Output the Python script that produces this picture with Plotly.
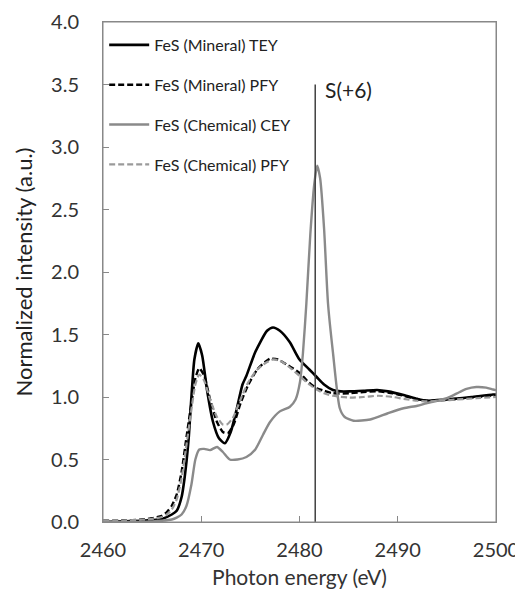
import plotly.graph_objects as go

# ---- data ----
tey_min_x = [2460, 2462, 2464, 2465, 2466, 2467, 2467.5, 2468, 2468.3, 2468.7, 2469.0, 2469.3, 2469.7,
             2470.1, 2470.6, 2471.2, 2471.8, 2472.4, 2473.0, 2473.6, 2474.2, 2474.6, 2475.5, 2476.7,
             2477.3, 2478.0, 2479.0, 2480.0, 2481.0, 2481.75, 2482.5, 2483.4, 2484.2, 2485.1, 2486.5,
             2487.9, 2489.0, 2490.6, 2492.0, 2492.9, 2494.0, 2495.7, 2497.5, 2499.7, 2500]
tey_min_y = [0.0, 0.005, 0.01, 0.015, 0.025, 0.06, 0.09, 0.2, 0.35, 0.65, 1.0, 1.3, 1.43,
             1.33, 1.05, 0.8, 0.67, 0.63, 0.72, 0.9, 1.1, 1.17, 1.36, 1.53,
             1.556, 1.53, 1.44, 1.3, 1.22, 1.16, 1.1, 1.056, 1.045, 1.045, 1.05,
             1.056, 1.045, 1.016, 0.985, 0.97, 0.975, 0.985, 1.0, 1.02, 1.02]

pfy_min_x = [2460, 2462, 2464, 2465, 2466, 2466.5, 2467, 2467.5, 2468, 2468.5, 2469.0, 2469.4, 2469.8,
             2470.3, 2470.9, 2471.6, 2472.2, 2472.7, 2473.3, 2474.0, 2474.8, 2475.7, 2476.5, 2477.0,
             2477.8, 2478.7, 2480.05, 2480.9, 2481.75, 2482.5, 2483.4, 2485.1, 2486.5, 2488.0, 2489.5,
             2490.6, 2492.0, 2493.0, 2494.5, 2496.0, 2498.0, 2500]
pfy_min_y = [0.01, 0.012, 0.02, 0.03, 0.05, 0.08, 0.13, 0.22, 0.4, 0.68, 0.95, 1.15, 1.23,
             1.17, 0.98, 0.8, 0.72, 0.71, 0.78, 0.95, 1.1, 1.22, 1.28, 1.306,
             1.3, 1.26, 1.19, 1.12, 1.07, 1.05, 1.03, 1.03, 1.04, 1.045, 1.03,
             1.01, 0.98, 0.97, 0.975, 0.985, 1.0, 1.015]

cey_chem_x = [2460, 2463, 2465, 2466, 2467, 2467.5, 2468, 2468.5, 2469.0, 2469.4, 2469.8, 2470.3,
              2470.9, 2471.6, 2472.2, 2472.9, 2473.7, 2474.6, 2475.5, 2476.3, 2477.0, 2478.0, 2479.0,
              2479.6, 2480.05, 2480.35, 2480.7, 2481.1, 2481.5, 2481.8, 2482.1, 2482.5, 2482.9,
              2483.4, 2484.1, 2484.6, 2485.5, 2487.2, 2489.0, 2490.6, 2492.0, 2492.9, 2494.0,
              2495.0, 2496.3, 2497.0, 2498.0, 2499.0, 2499.7, 2500]
cey_chem_y = [0.0, 0.0, 0.005, 0.01, 0.02, 0.035, 0.06, 0.13, 0.3, 0.5, 0.58, 0.585,
              0.575, 0.6, 0.56, 0.5, 0.5, 0.52, 0.58, 0.7, 0.8, 0.885, 0.92,
              0.98, 1.12, 1.35, 1.75, 2.3, 2.7, 2.85, 2.75, 2.35, 1.75,
              1.36, 0.91, 0.84, 0.81, 0.82, 0.87, 0.91, 0.93, 0.95, 0.97,
              0.99, 1.04, 1.065, 1.08, 1.075, 1.06, 1.055]

pfy_chem_x = [2460, 2462, 2464, 2465, 2466, 2466.5, 2467, 2467.5, 2468, 2468.5, 2469.0, 2469.4, 2469.8,
              2470.3, 2470.9, 2471.6, 2472.2, 2472.6, 2473.2, 2474.0, 2474.8, 2475.7, 2476.5, 2477.3,
              2478.0, 2478.8, 2480.0, 2481.0, 2481.75, 2482.5, 2483.4, 2485.1, 2486.5, 2488.0, 2489.5,
              2490.6, 2492.0, 2493.0, 2494.5, 2496.0, 2498.0, 2500]
pfy_chem_y = [0.01, 0.012, 0.018, 0.025, 0.04, 0.06, 0.1, 0.18, 0.35, 0.62, 0.9, 1.1, 1.18,
              1.13, 0.98, 0.84, 0.78, 0.78, 0.83, 0.98, 1.12, 1.22, 1.27, 1.30,
              1.29, 1.25, 1.17, 1.1, 1.06, 1.03, 1.01, 0.995, 1.0, 1.01, 1.0,
              0.985, 0.97, 0.965, 0.97, 0.98, 0.99, 1.0]

series_names = ["FeS (Mineral) TEY", "FeS (Mineral) PFY", "FeS (Chemical) CEY", "FeS (Chemical) PFY"]

s6_energy = 2481.6
s6_top = 3.5
s6_label = "S(+6)"

x_ticks = [2460, 2470, 2480, 2490, 2500]
y_ticks = [0.0, 0.5, 1.0, 1.5, 2.0, 2.5, 3.0, 3.5, 4.0]

FONT = "Lato, 'Open Sans', sans-serif"

fig = go.Figure()
styles = [
    dict(color="#000000", width=2.6, dash="solid"),
    dict(color="#000000", width=2.4, dash="6px,3px"),
    dict(color="#8a8a8a", width=2.4, dash="solid"),
    dict(color="#9a9a9a", width=2.2, dash="6px,3px"),
]
data = [(tey_min_x, tey_min_y), (pfy_min_x, pfy_min_y), (cey_chem_x, cey_chem_y), (pfy_chem_x, pfy_chem_y)]
for i, ((xs, ys), st, nm) in enumerate(zip(data, styles, series_names)):
    fig.add_trace(go.Scatter(x=xs, y=ys, mode="lines", name=nm, legendgroup=f"g{i}",
                             legendrank=i + 1,
                             line=dict(color=st["color"], width=st["width"], dash=st["dash"],
                                       shape="spline", smoothing=0.6)))

fig.add_trace(go.Scatter(x=[s6_energy, s6_energy], y=[0, s6_top], mode="lines",
                         line=dict(color="#404040", width=1.5), showlegend=False, hoverinfo="skip"))

fig.add_annotation(x=s6_energy, y=s6_top, text=s6_label, showarrow=False,
                   xanchor="left", yanchor="top", xshift=8, yshift=10,
                   font=dict(family=FONT, size=21, color="#222"))

# plot frame
fig.add_shape(type="rect", xref="paper", yref="paper", x0=0, x1=1, y0=0, y1=1,
              line=dict(color="#888", width=1), layer="above")

fig.update_layout(
    width=523, height=603,
    margin=dict(l=95, r=35, t=14, b=89),
    paper_bgcolor="white", plot_bgcolor="white",
    font=dict(family=FONT, color="#333"),
    legend=dict(x=0.003, y=0.988, xanchor="left", yanchor="top", bgcolor="rgba(0,0,0,0)",
                font=dict(family=FONT, size=16, color="#222"), tracegroupgap=16,
                itemwidth=40),
    showlegend=True,
)
fig.update_xaxes(range=[2460, 2500], tickvals=x_ticks, ticktext=[str(v) for v in x_ticks],
                 ticks="inside", ticklen=6, tickcolor="#888", showline=True, linecolor="#888",
                 linewidth=1, mirror=True, showgrid=False, zeroline=False, automargin=False,
                 tickfont=dict(family=FONT, size=20, color="#333"), ticklabelstandoff=10,
                 title=dict(text="Photon energy (eV)", font=dict(family=FONT, size=21, color="#333"),
                            standoff=10))
fig.update_yaxes(range=[0, 4.0], tickvals=y_ticks, ticktext=[f"{v:.1f}" for v in y_ticks],
                 ticks="inside", ticklen=6, tickcolor="#888", showline=True, linecolor="#888",
                 linewidth=1, mirror=True, showgrid=False, zeroline=False, automargin=False,
                 tickfont=dict(family=FONT, size=20, color="#333"), ticklabelstandoff=19,
                 title=dict(text="Normalized intensity (a.u.)", font=dict(family=FONT, size=22, color="#222"),
                            standoff=12))

fig.write_html("out.html")
